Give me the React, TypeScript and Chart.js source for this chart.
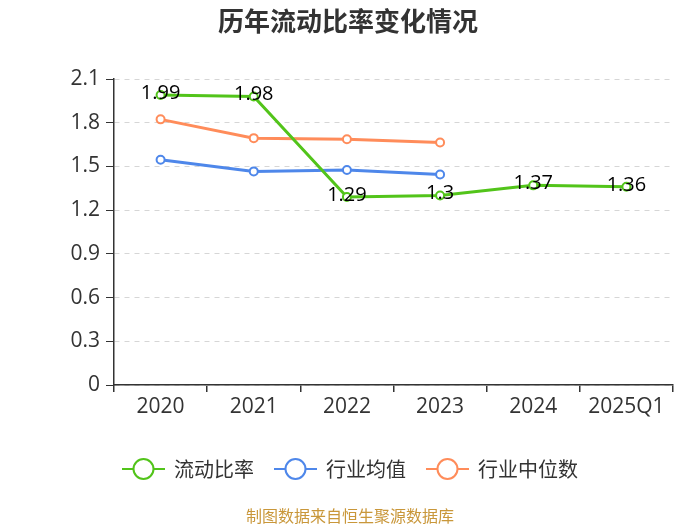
import React, { useEffect, useRef } from "react";
import { Chart, registerables } from "chart.js";

Chart.register(...registerables);

const categories = ["2020", "2021", "2022", "2023", "2024", "2025Q1"];
const currentRatio = [1.99, 1.98, 1.29, 1.3, 1.37, 1.36];
const industryAvg = [1.546, 1.466, 1.475, 1.445, null, null];
const industryMedian = [1.823, 1.694, 1.687, 1.664, null, null];
const yTicks = [0, 0.3, 0.6, 0.9, 1.2, 1.5, 1.8, 2.1];

const seriesNames = ["流动比率", "行业均值", "行业中位数"];
const colors = ["#52c41a", "#4e87ea", "#ff8c5a"];

const TITLE = "历年流动比率变化情况";
const FOOTER = "制图数据来自恒生聚源数据库";
const FONT = "'Noto Sans CJK SC', 'Open Sans', sans-serif";
const NUMFONT = "'Open Sans', 'Noto Sans CJK SC', sans-serif";

const decorPlugin = {
  id: "decor",
  afterDraw(chart: any) {
    const ctx = chart.ctx;
    const W = chart.width;
    ctx.save();
    // title
    ctx.fillStyle = "#333";
    ctx.font = `bold 26px ${FONT}`;
    ctx.textAlign = "center";
    ctx.textBaseline = "middle";
    ctx.fillText(TITLE, W / 2 - 2, 21);

    // data labels for first series
    const meta = chart.getDatasetMeta(0);
    ctx.font = `20px ${NUMFONT}`;
    ctx.fillStyle = "#000";
    meta.data.forEach((pt: any, i: number) => {
      const v = currentRatio[i];
      if (v == null) return;
      ctx.fillText(String(v), pt.x, pt.y - 2);
    });

    // legend
    const items = seriesNames.map((n, i) => ({ n, c: colors[i] }));
    ctx.font = `20px ${FONT}`;
    const lineW = 43;
    const gap = 9;
    const itemGap = 20;
    const widths = items.map((it) => lineW + gap + ctx.measureText(it.n).width);
    const total = widths.reduce((a, b) => a + b, 0) + itemGap * (items.length - 1);
    let x = W / 2 - total / 2;
    const ly = 469;
    items.forEach((it, i) => {
      ctx.strokeStyle = it.c;
      ctx.lineWidth = 2;
      ctx.beginPath();
      ctx.moveTo(x, ly);
      ctx.lineTo(x + lineW, ly);
      ctx.stroke();
      ctx.beginPath();
      ctx.arc(x + lineW / 2, ly, 10, 0, Math.PI * 2);
      ctx.fillStyle = "#fff";
      ctx.fill();
      ctx.stroke();
      ctx.fillStyle = "#333";
      ctx.textAlign = "left";
      ctx.fillText(it.n, x + lineW + gap, ly);
      x += widths[i] + itemGap;
    });

    // footer
    ctx.textAlign = "center";
    ctx.font = `16px ${FONT}`;
    ctx.fillStyle = "#c9973a";
    ctx.fillText(FOOTER, W / 2, 516);
    ctx.restore();
  },
};

export default function App() {
  const ref = useRef<HTMLCanvasElement>(null);
  useEffect(() => {
    document.body.style.margin = "0";
    const ds = [currentRatio, industryAvg, industryMedian].map((d, i) => ({
      label: seriesNames[i],
      data: d,
      borderColor: colors[i],
      backgroundColor: "#fff",
      pointBackgroundColor: "#fff",
      pointBorderColor: colors[i],
      pointBorderWidth: 2,
      pointRadius: 4,
      borderWidth: 3,
      tension: 0,
      spanGaps: false,
    }));
    const chart = new Chart(ref.current!, {
      type: "line",
      data: { labels: categories, datasets: ds },
      plugins: [decorPlugin],
      options: {
        animation: false,
        responsive: false,
        layout: { padding: { top: 79, right: 27, left: 0, bottom: 0 } },
        plugins: {
          legend: { display: false },
          title: { display: false },
          tooltip: { enabled: false },
        },
        scales: {
          x: {
            offset: true,
            grid: {
              display: true,
              offset: true,
              drawOnChartArea: false,
              drawTicks: true,
              tickLength: 7,
              color: "#333",
              lineWidth: 1.5,
            },
            border: { display: true, color: "#333", width: 1.5 },
            ticks: {
              color: "#333",
              font: { family: NUMFONT, size: 21 },
              padding: 2,
              maxRotation: 0,
            },
            afterFit(scale: any) {
              scale.height = 140;
            },
          },
          y: {
            min: 0,
            max: 2.1,
            afterBuildTicks(scale: any) {
              scale.ticks = yTicks.map((v) => ({ value: v }));
            },
            grid: {
              color: "#d6d6d6",
              lineWidth: 1,
              tickLength: 8,
              tickColor: "#333",
              drawTicks: true,
            } as any,
            border: { display: true, color: "#333", width: 1.5, dash: [5, 5] } as any,
            ticks: {
              color: "#333",
              font: { family: NUMFONT, size: 21 },
              padding: 6,
              callback: (v: any) => String(Math.round(Number(v) * 10) / 10),
            },
            afterFit(scale: any) {
              scale.width = 114;
            },
          },
        },
      },
    });
    return () => chart.destroy();
  }, []);
  return (
    <div style={{ position: "absolute", left: 0, top: 0, width: 700, height: 525 }}>
      <canvas ref={ref} width={700} height={525} style={{ width: 700, height: 525 }} />
    </div>
  );
}
